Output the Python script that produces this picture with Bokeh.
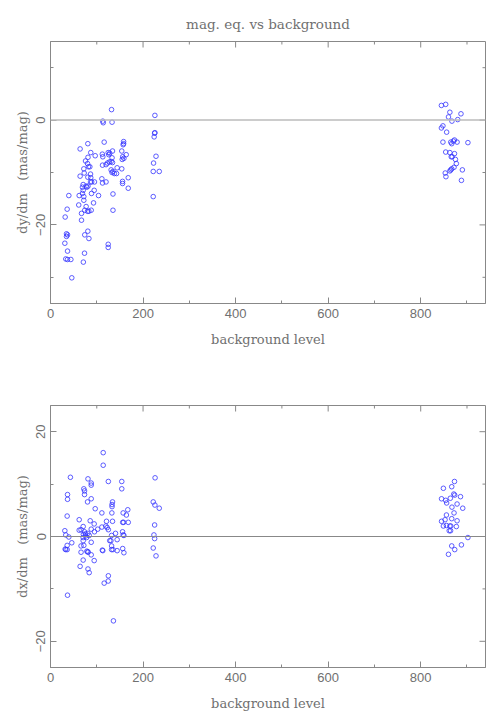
from bokeh.plotting import figure
from bokeh.layouts import column
from bokeh.models import FixedTicker, Span
from bokeh.embed import file_html
from bokeh.resources import INLINE
import math

# ---- data: dy/dm vs background level (top panel) ----
dy_bg = [131.9, 113, 114, 133, 225.6, 225.6, 225, 224, 228, 222.7, 222, 235, 222,
         64, 80.7, 116, 158, 158, 157, 124.7, 128, 134, 112, 126, 113, 154, 163.6,
         156, 158.6, 155, 133, 96.6, 87, 81, 75.7, 72, 80, 82, 85, 64, 72.8, 86.5,
         80.7, 87, 86.5, 89, 95, 70.6, 77, 81, 78.6, 69, 70.6, 69, 88.6, 62, 72, 72,
         39.6, 94.4, 93, 103.8, 61, 77, 67, 80, 82.9, 88, 74, 36, 31.7, 67, 80.7, 74,
         83, 34.6, 36.8, 34.6, 31, 36.8, 33, 36.8, 44, 73.5, 71, 46, 124.7, 124.7,
         112.4, 120, 123, 127, 131, 134, 144, 131, 133, 135, 138, 142.7, 154, 111,
         112.4, 120, 155.7, 155.7, 168, 168, 135, 135,
         844.7, 854, 863, 887, 860, 867.5, 880, 848, 844.7, 856, 848, 865, 867, 873,
         878.6, 902, 870.6, 854, 863, 873, 866, 868, 875, 877, 872, 867, 863, 865,
         890, 853, 854.5, 888]
dy_val = [2.0, -0.2, -0.5, -0.4, 0.9, -2.4, -2.5, -3.2, -6.9, -8.2, -9.8, -9.8, -14.6,
          -5.5, -4.5, -4.2, -4.1, -4.5, -4.7, -6.2, -6.3, -5.9, -6.5, -6.6, -7.0, -5.9,
          -6.6, -7.0, -7.3, -7.5, -7.2, -6.8, -6.2, -7.1, -7.8, -9.3, -8.3, -8.9, -8.9,
          -10.7, -10.1, -10.3, -10.9, -11.0, -11.8, -11.8, -11.8, -12.3, -12.6, -12.6,
          -12.8, -12.8, -13.4, -14.0, -14.0, -14.4, -14.6, -15.3, -14.4, -13.4, -15.8,
          -14.4, -16.2, -16.5, -17.8, -17.4, -17.4, -17.2, -17.2, -17.0, -18.5, -19.1,
          -21.2, -21.9, -22.6, -21.7, -21.9, -22.2, -23.5, -25.0, -26.5, -26.6, -26.6,
          -25.4, -27.1, -30.1, -23.7, -24.3, -8.6, -8.5, -8.2, -8.0, -7.9, -8.1, -9.1,
          -9.5, -10.0, -9.8, -10.2, -10.2, -9.3, -11.2, -12.0, -11.8, -11.7, -12.1,
          -11.0, -13.0, -14.1, -17.2,
          2.8, 3.0, 1.5, 1.2, 0.6, -0.2, 0.1, -1.1, -1.5, -2.3, -4.2, -4.2, -4.5, -3.8,
          -4.2, -4.3, -4.0, -6.1, -6.2, -6.4, -7.0, -7.0, -7.5, -8.3, -9.0, -9.3, -9.7,
          -9.5, -9.5, -10.1, -10.8, -11.5]

# ---- data: dx/dm vs background level (bottom panel) ----
dx_bg = [113.9, 113.9, 43, 81, 125, 154, 88, 88, 154, 72, 73.5, 73.5, 36.8, 36.8, 88,
         80, 134, 133, 133, 222, 225.6, 235, 226, 96.6, 167, 111, 132.6, 157, 164, 36,
         62, 168, 156, 158, 121, 134, 85.8, 94.4, 225, 70.6, 111, 122.5, 119.6, 102,
         88, 125, 31, 62, 66, 73.5, 95, 140.5, 155.7, 75.7, 80.7, 71, 76, 83.6, 70.6,
         78, 33, 39.6, 157, 158.6, 223.5, 225, 132, 144, 128, 130.5, 88, 46, 70.6, 36,
         66, 72, 132, 156, 33, 36, 31.7, 112, 113, 135, 132, 144, 222, 78.6, 80.7, 81,
         66, 158.6, 88, 228, 70.6, 94.4, 64, 81, 83.6, 125, 124.7, 116, 36.8, 136,
         873, 867, 849, 871.5, 873.5, 864, 845, 854, 886, 856, 878.6, 867.5, 890.8,
         872, 855.6, 867, 845, 852.6, 878.6, 849, 855.6, 863, 865, 877, 861.6, 864.5,
         902, 867, 888, 873.5, 860]
dx_val = [16.0, 13.6, 11.3, 11.0, 10.5, 10.5, 10.2, 9.8, 9.1, 9.1, 8.7, 8.0, 8.0, 7.1,
          7.2, 6.6, 6.6, 6.1, 5.7, 6.6, 6.0, 5.4, 11.2, 5.3, 5.1, 4.5, 4.5, 4.5, 4.1,
          3.9, 3.2, 2.7, 2.7, 2.7, 2.9, 2.9, 3.0, 2.4, 2.2, 1.9, 1.8, 1.7, 2.0, 1.4,
          1.4, 1.3, 1.1, 1.2, 1.3, 0.9, 0.9, 0.6, 0.9, 0.5, 0.6, 0.4, 0.1, 0.2, -0.2,
          -0.2, 0.3, -0.1, 0.3, 0.2, 0.3, -0.4, 0.2, -0.6, -0.8, -0.8, -1.1, -1.2, -0.8,
          -1.7, -1.8, -1.7, -1.8, -2.3, -2.5, -2.5, -2.4, -2.6, -2.7, -2.5, -2.5, -2.7,
          -2.2, -2.8, -2.9, -3.0, -3.0, -3.1, -3.5, -3.7, -4.5, -4.6, -5.7, -6.2, -6.9,
          -7.5, -8.5, -8.9, -11.2, -16.1,
          10.5, 9.5, 9.2, 8.1, 7.9, 7.3, 7.2, 6.9, 7.6, 6.4, 6.2, 5.6, 5.4, 4.5, 4.1,
          3.4, 2.9, 3.2, 3.0, 2.0, 2.1, 2.0, 2.0, 1.9, 1.1, 1.1, -0.2, -1.8, -1.6, -2.5,
          -3.4]

x_major = [0, 200, 400, 600, 800]
x_minor = [100, 300, 500, 700, 900]
X_RANGE = (0, 940)

AX = "#888888"
TXT = "#707070"
PT = "#3535ff"
SERIF = "DejaVu Serif"
SANS = "Liberation Sans"
GAP = "\u00a0\u00a0\u00a0"


def style_axis(ax):
    ax.axis_line_color = AX
    ax.major_tick_line_color = AX
    ax.minor_tick_line_color = AX
    ax.major_tick_in = 6
    ax.major_tick_out = 0
    ax.minor_tick_in = 3
    ax.minor_tick_out = 0
    ax.major_label_text_font = SANS
    ax.major_label_text_font_size = "13px"
    ax.major_label_text_color = TXT
    ax.axis_label_text_font = SERIF
    ax.axis_label_text_font_size = "13px"
    ax.axis_label_text_font_style = "normal"
    ax.axis_label_text_color = TXT


def edge_ticks(p, yrange, y_major, y_minor):
    # tick marks on the top and right frame edges (half clipped by the frame)
    top, right = yrange[1], X_RANGE[1]
    p.scatter(x_major, [top] * len(x_major), marker="dash", size=12, angle=math.pi / 2,
              line_color=AX, line_width=1)
    p.scatter(x_minor, [top] * len(x_minor), marker="dash", size=6, angle=math.pi / 2,
              line_color=AX, line_width=1)
    p.scatter([right] * len(y_major), y_major, marker="dash", size=12,
              line_color=AX, line_width=1)
    p.scatter([right] * len(y_minor), y_minor, marker="dash", size=6,
              line_color=AX, line_width=1)


def make_panel(xs, ys, yrange, y_major, y_minor, ylabel, height, top, bottom, title=None,
               zero_color="#bbbbbb", zero_width=1.5):
    p = figure(width=486, height=height, x_range=X_RANGE, y_range=yrange,
               output_backend="svg", toolbar_location=None,
               min_border_left=50, min_border_right=1,
               min_border_top=top, min_border_bottom=bottom)
    p.xgrid.visible = False
    p.ygrid.visible = False
    p.outline_line_color = AX
    p.background_fill_color = "white"
    p.border_fill_color = "white"

    p.xaxis.ticker = FixedTicker(ticks=x_major, minor_ticks=x_minor)
    p.yaxis.ticker = FixedTicker(ticks=y_major, minor_ticks=y_minor)
    p.xaxis.axis_label = "background level"
    p.yaxis.axis_label = ylabel
    style_axis(p.xaxis[0])
    style_axis(p.yaxis[0])
    p.xaxis.major_label_standoff = 5
    p.xaxis.axis_label_standoff = 11
    p.yaxis.major_label_orientation = "vertical"
    p.yaxis.major_label_standoff = 5
    p.yaxis.axis_label_standoff = 4

    p.add_layout(Span(location=0, dimension="width", line_color=zero_color,
                      line_width=zero_width))
    edge_ticks(p, yrange, y_major, y_minor)

    p.scatter(xs, ys, marker="circle", size=4.6, fill_color=None,
              line_color=PT, line_width=0.8)

    if title:
        p.title.text = title
        p.title.align = "center"
        p.title.text_font = SERIF
        p.title.text_font_size = "13.5px"
        p.title.text_font_style = "normal"
        p.title.text_color = TXT
        p.title.standoff = 20
    return p


p1 = make_panel(dy_bg, dy_val, (-35, 15), [-20, 0], [-30, -10, 10],
                "dy/dm" + GAP + "(mas/mag)", 360, 41, 57, title="mag. eq. vs background")
p2 = make_panel(dx_bg, dx_val, (-25, 25), [-20, 0, 20], [-10, 10],
                "dx/dm" + GAP + "(mas/mag)", 357, 45, 50,
                zero_color="#888888", zero_width=1)

layout = column(p1, p2, spacing=0)
open("out.html", "w").write(file_html(layout, INLINE))
